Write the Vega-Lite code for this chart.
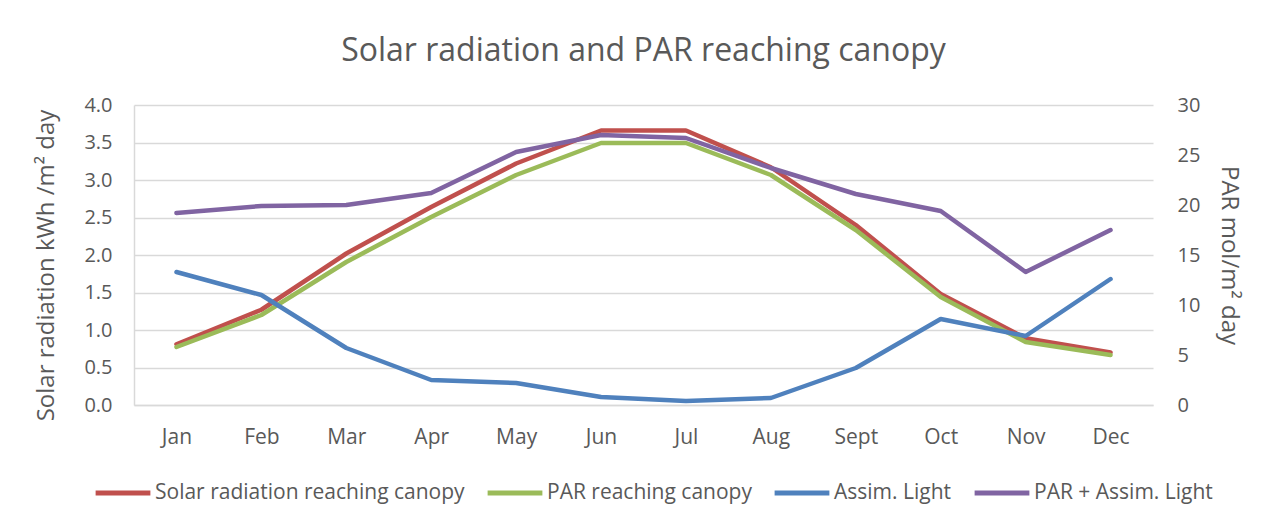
{
  "$schema": "https://vega.github.io/schema/vega-lite/v6.json",
  "width": 1019,
  "height": 300,
  "autosize": {"type": "none"},
  "padding": {"left": 134, "top": 105, "right": 112, "bottom": 119},
  "background": "white",
  "title": {
    "text": "Solar radiation and PAR reaching canopy",
    "font": "Open Sans",
    "fontSize": 32,
    "fontWeight": "normal",
    "color": "#595959",
    "anchor": "middle",
    "offset": 27
  },
  "config": {
    "view": {"stroke": null},
    "font": "Open Sans"
  },
  "data": {
    "values": [
      {"month": "Jan", "series": "Solar radiation reaching canopy", "value": 0.81},
      {"month": "Feb", "series": "Solar radiation reaching canopy", "value": 1.27},
      {"month": "Mar", "series": "Solar radiation reaching canopy", "value": 2.02},
      {"month": "Apr", "series": "Solar radiation reaching canopy", "value": 2.64},
      {"month": "May", "series": "Solar radiation reaching canopy", "value": 3.22},
      {"month": "Jun", "series": "Solar radiation reaching canopy", "value": 3.66},
      {"month": "Jul", "series": "Solar radiation reaching canopy", "value": 3.66},
      {"month": "Aug", "series": "Solar radiation reaching canopy", "value": 3.17},
      {"month": "Sept", "series": "Solar radiation reaching canopy", "value": 2.40},
      {"month": "Oct", "series": "Solar radiation reaching canopy", "value": 1.48},
      {"month": "Nov", "series": "Solar radiation reaching canopy", "value": 0.89},
      {"month": "Dec", "series": "Solar radiation reaching canopy", "value": 0.70},
      {"month": "Jan", "series": "PAR reaching canopy", "value": 5.8},
      {"month": "Feb", "series": "PAR reaching canopy", "value": 9.0},
      {"month": "Mar", "series": "PAR reaching canopy", "value": 14.3},
      {"month": "Apr", "series": "PAR reaching canopy", "value": 18.8},
      {"month": "May", "series": "PAR reaching canopy", "value": 23.0},
      {"month": "Jun", "series": "PAR reaching canopy", "value": 26.2},
      {"month": "Jul", "series": "PAR reaching canopy", "value": 26.2},
      {"month": "Aug", "series": "PAR reaching canopy", "value": 23.0},
      {"month": "Sept", "series": "PAR reaching canopy", "value": 17.5},
      {"month": "Oct", "series": "PAR reaching canopy", "value": 10.8},
      {"month": "Nov", "series": "PAR reaching canopy", "value": 6.3},
      {"month": "Dec", "series": "PAR reaching canopy", "value": 5.0},
      {"month": "Jan", "series": "Assim. Light", "value": 13.3},
      {"month": "Feb", "series": "Assim. Light", "value": 11.0},
      {"month": "Mar", "series": "Assim. Light", "value": 5.7},
      {"month": "Apr", "series": "Assim. Light", "value": 2.5},
      {"month": "May", "series": "Assim. Light", "value": 2.2},
      {"month": "Jun", "series": "Assim. Light", "value": 0.8},
      {"month": "Jul", "series": "Assim. Light", "value": 0.4},
      {"month": "Aug", "series": "Assim. Light", "value": 0.7},
      {"month": "Sept", "series": "Assim. Light", "value": 3.7},
      {"month": "Oct", "series": "Assim. Light", "value": 8.6},
      {"month": "Nov", "series": "Assim. Light", "value": 6.9},
      {"month": "Dec", "series": "Assim. Light", "value": 12.6},
      {"month": "Jan", "series": "PAR + Assim. Light", "value": 19.2},
      {"month": "Feb", "series": "PAR + Assim. Light", "value": 19.9},
      {"month": "Mar", "series": "PAR + Assim. Light", "value": 20.0},
      {"month": "Apr", "series": "PAR + Assim. Light", "value": 21.2},
      {"month": "May", "series": "PAR + Assim. Light", "value": 25.3},
      {"month": "Jun", "series": "PAR + Assim. Light", "value": 27.0},
      {"month": "Jul", "series": "PAR + Assim. Light", "value": 26.7},
      {"month": "Aug", "series": "PAR + Assim. Light", "value": 23.7},
      {"month": "Sept", "series": "PAR + Assim. Light", "value": 21.1},
      {"month": "Oct", "series": "PAR + Assim. Light", "value": 19.4},
      {"month": "Nov", "series": "PAR + Assim. Light", "value": 13.3},
      {"month": "Dec", "series": "PAR + Assim. Light", "value": 17.5}
    ]
  },
  "encoding": {
    "x": {
      "field": "month",
      "type": "ordinal",
      "sort": null,
      "scale": {"type": "point", "padding": 0.5},
      "axis": {
        "title": null,
        "labelAngle": 0,
        "labelFont": "Open Sans",
        "labelFontSize": 21,
        "labelColor": "#595959",
        "labelPadding": 21,
        "ticks": false,
        "domainColor": "#D9D9D9",
        "domainWidth": 1.5
      }
    },
    "color": {
      "field": "series",
      "type": "nominal",
      "scale": {
        "domain": ["Solar radiation reaching canopy", "PAR reaching canopy", "Assim. Light", "PAR + Assim. Light"],
        "range": ["#C0504D", "#9BBB59", "#4F81BD", "#8064A2"]
      },
      "legend": {
        "title": null,
        "orient": "none",
        "legendX": -41,
        "legendY": 358,
        "direction": "horizontal",
        "symbolType": "stroke",
        "symbolSize": 3000,
        "symbolStrokeWidth": 5,
        "labelFont": "Open Sans",
        "labelFontSize": 21,
        "labelColor": "#595959",
        "labelOffset": 2,
        "columnPadding": 12,
        "labelLimit": 400
      }
    }
  },
  "layer": [
    {
      "transform": [{"filter": "datum.series === 'Solar radiation reaching canopy'"}],
      "mark": {"type": "line", "strokeWidth": 4.5, "strokeJoin": "round", "strokeCap": "round"},
      "encoding": {
        "y": {
          "field": "value",
          "type": "quantitative",
          "scale": {"domain": [0, 4], "nice": false},
          "axis": {
            "title": "Solar radiation kWh /m² day",
            "titleFont": "Open Sans",
            "titleFontSize": 24,
            "titleFontWeight": "normal",
            "titleColor": "#595959",
            "titlePadding": 25,
            "titleY": 160,
            "values": [0, 0.5, 1, 1.5, 2, 2.5, 3, 3.5, 4],
            "format": ".1f",
            "labelFont": "Open Sans",
            "labelFontSize": 20,
            "labelColor": "#595959",
            "labelPadding": 22,
            "ticks": false,
            "domain": true,
            "domainColor": "#D9D9D9",
            "domainWidth": 1.5,
            "grid": true,
            "gridColor": "#D9D9D9",
            "gridWidth": 1.5
          }
        }
      }
    },
    {
      "transform": [{"filter": "datum.series !== 'Solar radiation reaching canopy'"}],
      "mark": {"type": "line", "strokeWidth": 4.5, "strokeJoin": "round", "strokeCap": "round"},
      "encoding": {
        "y": {
          "field": "value",
          "type": "quantitative",
          "scale": {"domain": [0, 30], "nice": false},
          "axis": {
            "orient": "right",
            "title": "PAR mol/m²  day",
            "titleFont": "Open Sans",
            "titleFontSize": 24,
            "titleFontWeight": "normal",
            "titleColor": "#595959",
            "titlePadding": 17,
            "values": [0, 5, 10, 15, 20, 25, 30],
            "labelFont": "Open Sans",
            "labelFontSize": 20,
            "labelColor": "#595959",
            "labelPadding": 24,
            "ticks": false,
            "domain": false,
            "grid": false
          }
        }
      }
    }
  ],
  "resolve": {"scale": {"y": "independent"}}
}
